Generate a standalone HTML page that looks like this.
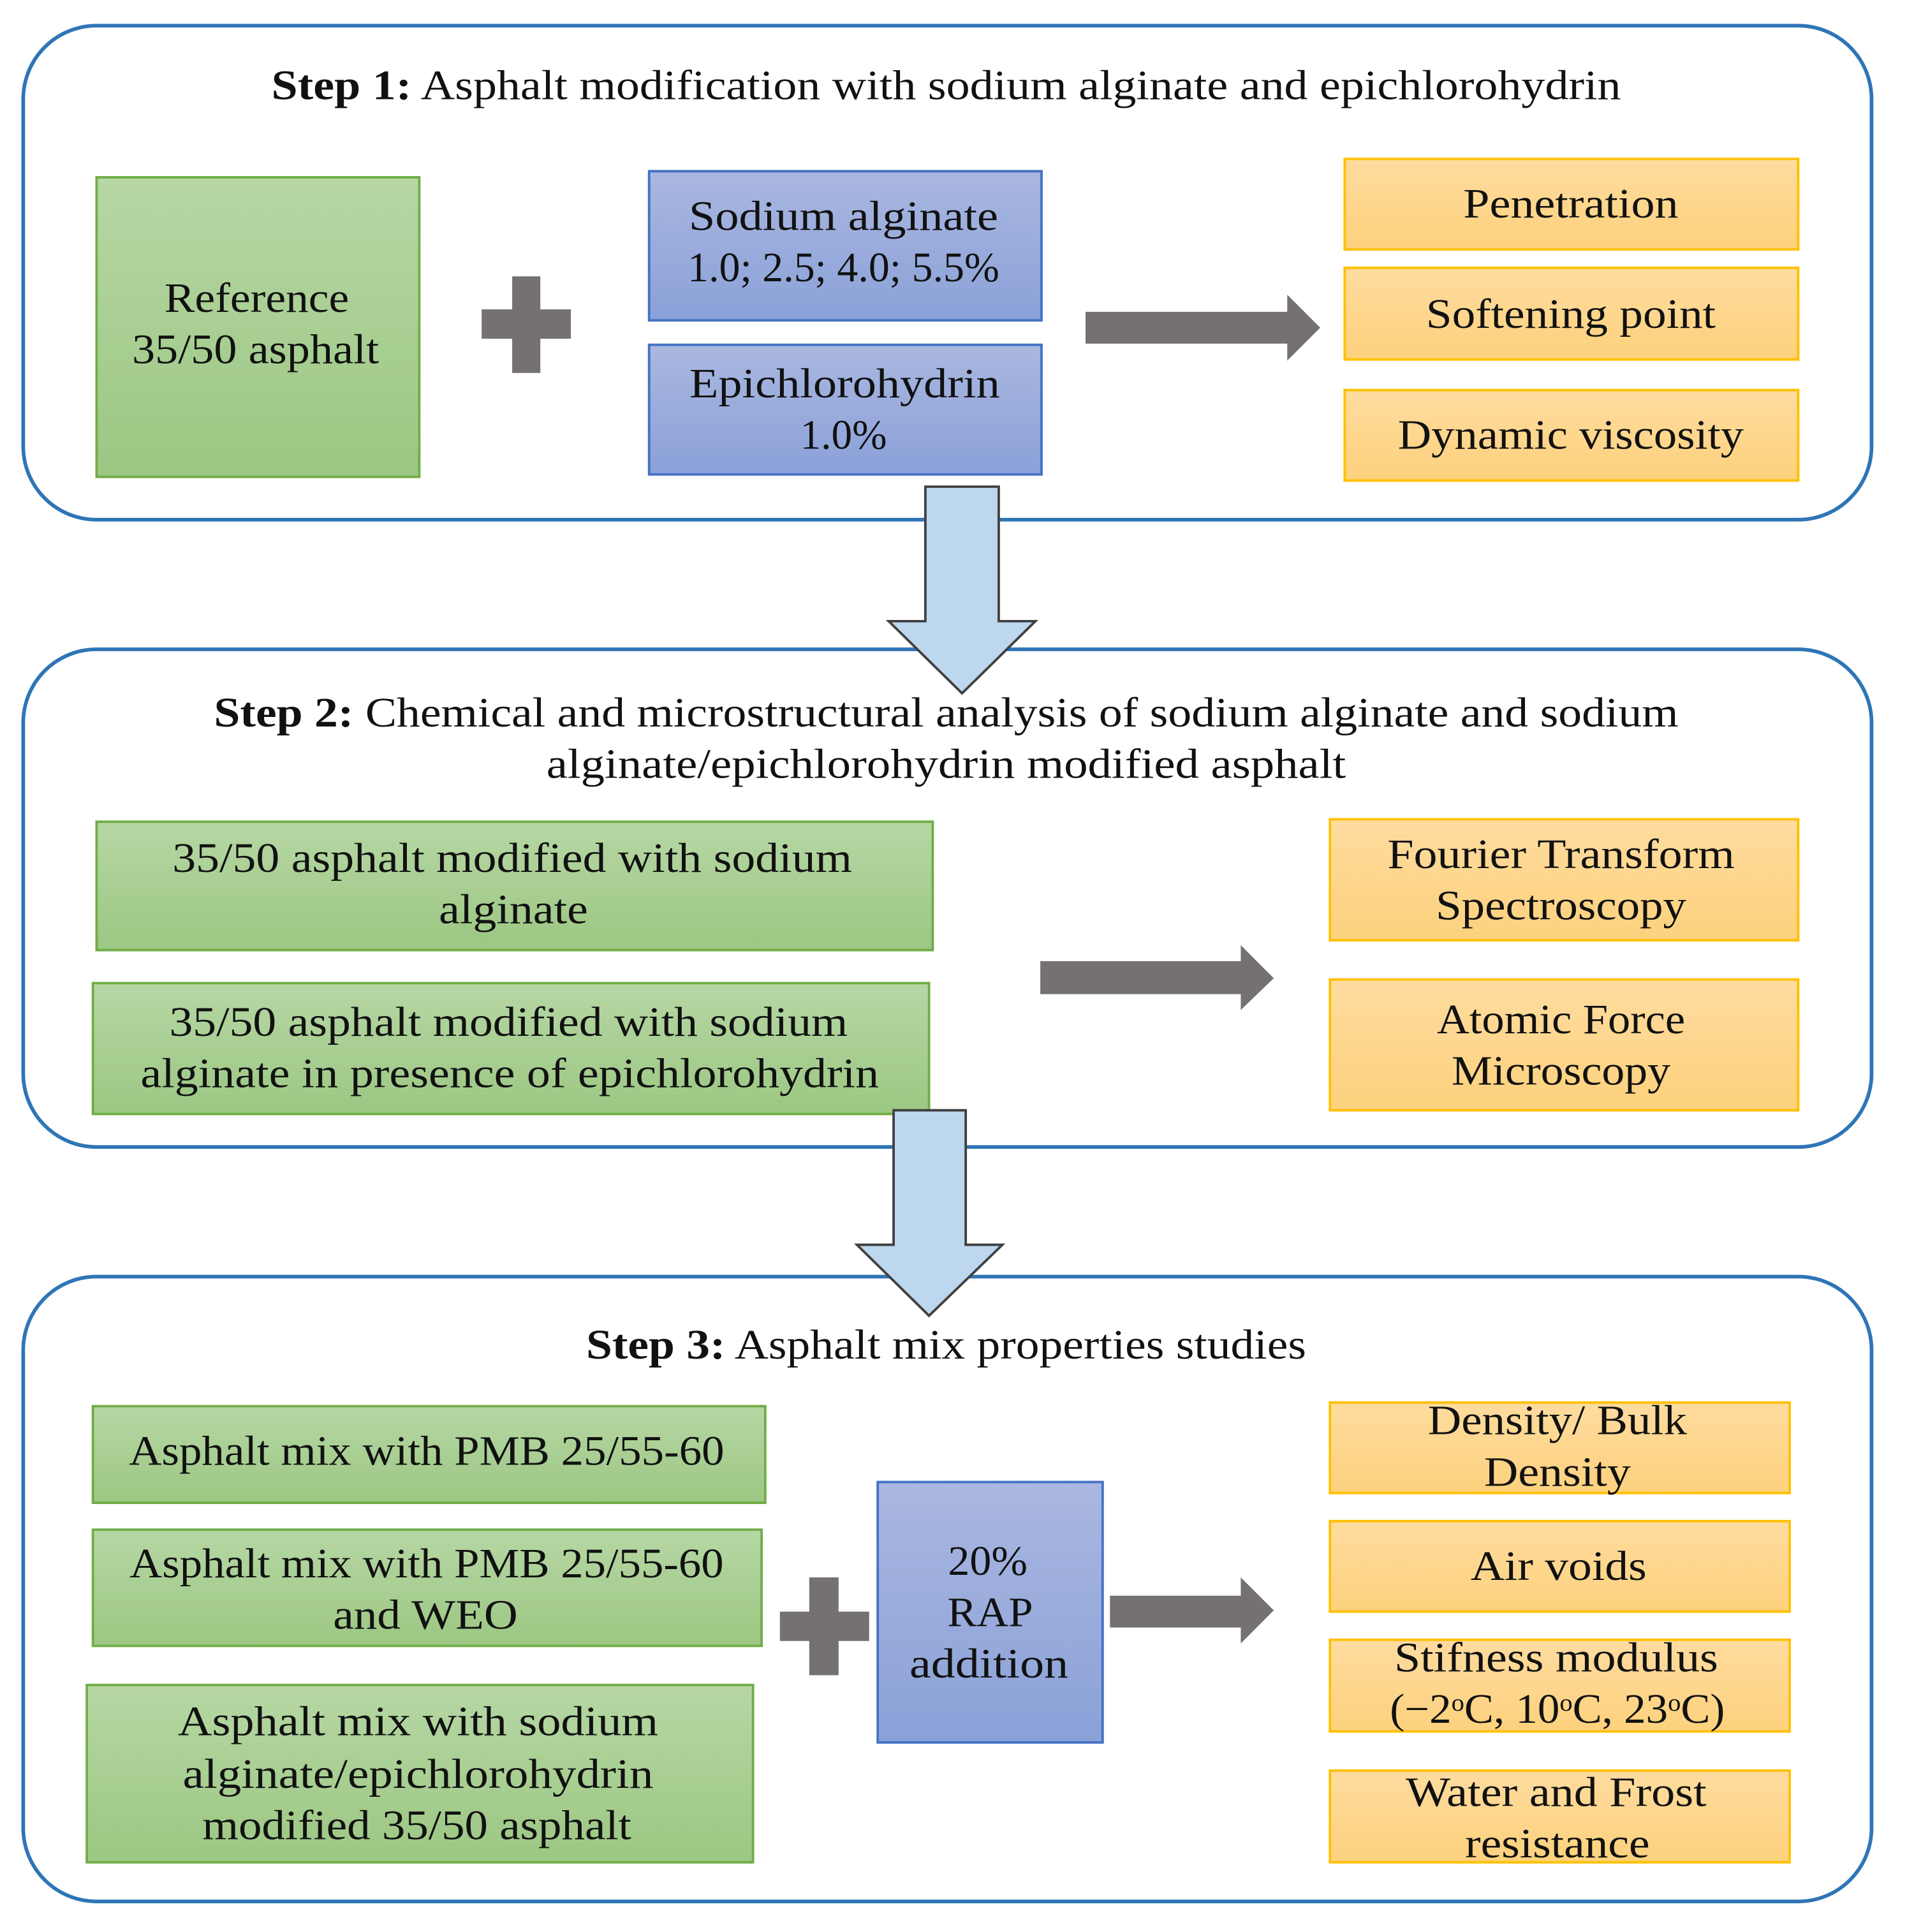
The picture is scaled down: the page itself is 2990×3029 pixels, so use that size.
<!DOCTYPE html>
<html><head><meta charset="utf-8"><style>
html,body{margin:0;padding:0;background:#fff;}
svg{display:block;}
text{font-family:"Liberation Serif",serif;font-size:34px;fill:#111;text-anchor:middle;}
</style></head><body>
<svg width="2990" height="3029" viewBox="0 0 1560 1580" preserveAspectRatio="none" xmlns="http://www.w3.org/2000/svg">
<defs>
<linearGradient id="g" x1="0" y1="0" x2="0" y2="1"><stop offset="0" stop-color="#b6d7a4"/><stop offset="1" stop-color="#9cc783"/></linearGradient>
<linearGradient id="b" x1="0" y1="0" x2="0" y2="1"><stop offset="0" stop-color="#aab7e0"/><stop offset="1" stop-color="#8aa1d8"/></linearGradient>
<linearGradient id="o" x1="0" y1="0" x2="0" y2="1"><stop offset="0" stop-color="#fedc9f"/><stop offset="1" stop-color="#fdd17d"/></linearGradient>
</defs>
<g fill="none" stroke="#2e75b6" stroke-width="3">
<rect x="19" y="21" width="1512" height="404" rx="60"/>
<rect x="19" y="531" width="1512" height="407" rx="60"/>
<rect x="19" y="1044" width="1512" height="511" rx="60"/>
</g>
<!-- Step 1 -->
<text x="774" y="81" textLength="1104" lengthAdjust="spacingAndGlyphs"><tspan font-weight="bold">Step 1:</tspan> Asphalt modification with sodium alginate and epichlorohydrin</text>
<rect x="79" y="145" width="264" height="245" fill="url(#g)" stroke="#70ad47" stroke-width="2"/>
<text x="210" y="255" textLength="151" lengthAdjust="spacingAndGlyphs">Reference</text><text x="209" y="297" textLength="202" lengthAdjust="spacingAndGlyphs">35/50 asphalt</text>
<rect x="419" y="226" width="23" height="79" fill="#767171"/><rect x="394" y="253" width="73" height="24" fill="#767171"/>
<rect x="531" y="140" width="321" height="122" fill="url(#b)" stroke="#4472c4" stroke-width="2"/>
<text x="690" y="188" textLength="253" lengthAdjust="spacingAndGlyphs">Sodium alginate</text><text x="690" y="230" textLength="255" lengthAdjust="spacingAndGlyphs">1.0; 2.5; 4.0; 5.5%</text>
<rect x="531" y="282" width="321" height="106" fill="url(#b)" stroke="#4472c4" stroke-width="2"/>
<text x="691" y="325" textLength="254" lengthAdjust="spacingAndGlyphs">Epichlorohydrin</text><text x="690" y="367" textLength="71" lengthAdjust="spacingAndGlyphs">1.0%</text>
<polygon points="888,255 1053,255 1053,241 1080,268 1053,295 1053,281 888,281" fill="#767171"/>
<g fill="url(#o)" stroke="#ffc000" stroke-width="2">
<rect x="1100" y="130" width="371" height="74"/><rect x="1100" y="219" width="371" height="75"/><rect x="1100" y="319" width="371" height="74"/>
</g>
<text x="1285" y="178" textLength="176" lengthAdjust="spacingAndGlyphs">Penetration</text><text x="1285" y="268" textLength="237" lengthAdjust="spacingAndGlyphs">Softening point</text><text x="1285" y="367" textLength="283" lengthAdjust="spacingAndGlyphs">Dynamic viscosity</text>
<polygon points="757,398 817,398 817,508 847,508 787,567 727,508 757,508" fill="#bdd7ee" stroke="#404040" stroke-width="2"/>
<!-- Step 2 -->
<text x="774" y="594" textLength="1198" lengthAdjust="spacingAndGlyphs"><tspan font-weight="bold">Step 2:</tspan> Chemical and microstructural analysis of sodium alginate and sodium</text>
<text x="774" y="636" textLength="654" lengthAdjust="spacingAndGlyphs">alginate/epichlorohydrin modified asphalt</text>
<rect x="79" y="672" width="684" height="105" fill="url(#g)" stroke="#70ad47" stroke-width="2"/>
<text x="419" y="713" textLength="556" lengthAdjust="spacingAndGlyphs">35/50 asphalt modified with sodium</text><text x="420" y="755" textLength="122" lengthAdjust="spacingAndGlyphs">alginate</text>
<rect x="76" y="804" width="684" height="107" fill="url(#g)" stroke="#70ad47" stroke-width="2"/>
<text x="416" y="847" textLength="555" lengthAdjust="spacingAndGlyphs">35/50 asphalt modified with sodium</text><text x="417" y="889" textLength="604" lengthAdjust="spacingAndGlyphs">alginate in presence of epichlorohydrin</text>
<polygon points="851,786 1015,786 1015,773 1042,800 1015,826 1015,813 851,813" fill="#767171"/>
<g fill="url(#o)" stroke="#ffc000" stroke-width="2">
<rect x="1088" y="670" width="383" height="99"/><rect x="1088" y="801" width="383" height="107"/>
</g>
<text x="1277" y="710" textLength="284" lengthAdjust="spacingAndGlyphs">Fourier Transform</text><text x="1277" y="752" textLength="205" lengthAdjust="spacingAndGlyphs">Spectroscopy</text>
<text x="1277" y="845" textLength="203" lengthAdjust="spacingAndGlyphs">Atomic Force</text><text x="1277" y="887" textLength="179" lengthAdjust="spacingAndGlyphs">Microscopy</text>
<polygon points="731,908 790,908 790,1018 820,1018 760,1076 701,1018 731,1018" fill="#bdd7ee" stroke="#404040" stroke-width="2"/>
<!-- Step 3 -->
<text x="774" y="1111" textLength="589" lengthAdjust="spacingAndGlyphs"><tspan font-weight="bold">Step 3:</tspan> Asphalt mix properties studies</text>
<rect x="76" y="1150" width="550" height="79" fill="url(#g)" stroke="#70ad47" stroke-width="2"/>
<text x="349" y="1198" textLength="487" lengthAdjust="spacingAndGlyphs">Asphalt mix with PMB 25/55-60</text>
<rect x="76" y="1251" width="547" height="95" fill="url(#g)" stroke="#70ad47" stroke-width="2"/>
<text x="349" y="1290" textLength="486" lengthAdjust="spacingAndGlyphs">Asphalt mix with PMB 25/55-60</text><text x="348" y="1332" textLength="151" lengthAdjust="spacingAndGlyphs">and WEO</text>
<rect x="71" y="1378" width="545" height="145" fill="url(#g)" stroke="#70ad47" stroke-width="2"/>
<text x="342" y="1419" textLength="393" lengthAdjust="spacingAndGlyphs">Asphalt mix with sodium</text><text x="342" y="1462" textLength="385" lengthAdjust="spacingAndGlyphs">alginate/epichlorohydrin</text><text x="341" y="1504" textLength="351" lengthAdjust="spacingAndGlyphs">modified 35/50 asphalt</text>
<rect x="662" y="1290" width="24" height="80" fill="#767171"/><rect x="638" y="1318" width="73" height="24" fill="#767171"/>
<rect x="718" y="1212" width="184" height="213" fill="url(#b)" stroke="#4472c4" stroke-width="2"/>
<text x="808" y="1288" textLength="65" lengthAdjust="spacingAndGlyphs">20%</text><text x="810" y="1330" textLength="70" lengthAdjust="spacingAndGlyphs">RAP</text><text x="809" y="1372" textLength="130" lengthAdjust="spacingAndGlyphs">addition</text>
<polygon points="908,1305 1015,1305 1015,1290 1042,1317 1015,1344 1015,1331 908,1331" fill="#767171"/>
<g fill="url(#o)" stroke="#ffc000" stroke-width="2">
<rect x="1088" y="1147" width="376" height="74"/><rect x="1088" y="1244" width="376" height="74"/><rect x="1088" y="1341" width="376" height="75"/><rect x="1088" y="1448" width="376" height="75"/>
</g>
<text x="1274" y="1173" textLength="212" lengthAdjust="spacingAndGlyphs">Density/ Bulk</text><text x="1274" y="1215" textLength="120" lengthAdjust="spacingAndGlyphs">Density</text>
<text x="1275" y="1292" textLength="144" lengthAdjust="spacingAndGlyphs">Air voids</text>
<text x="1273" y="1367" textLength="265" lengthAdjust="spacingAndGlyphs">Stifness modulus</text><text x="1274" y="1409" textLength="274" lengthAdjust="spacingAndGlyphs">(−2<tspan font-size="20" dy="-10">o</tspan><tspan dy="10">C, 10</tspan><tspan font-size="20" dy="-10">o</tspan><tspan dy="10">C, 23</tspan><tspan font-size="20" dy="-10">o</tspan><tspan dy="10">C)</tspan></text>
<text x="1273" y="1477" textLength="246" lengthAdjust="spacingAndGlyphs">Water and Frost</text><text x="1274" y="1519" textLength="151" lengthAdjust="spacingAndGlyphs">resistance</text>
</svg>
</body></html>
